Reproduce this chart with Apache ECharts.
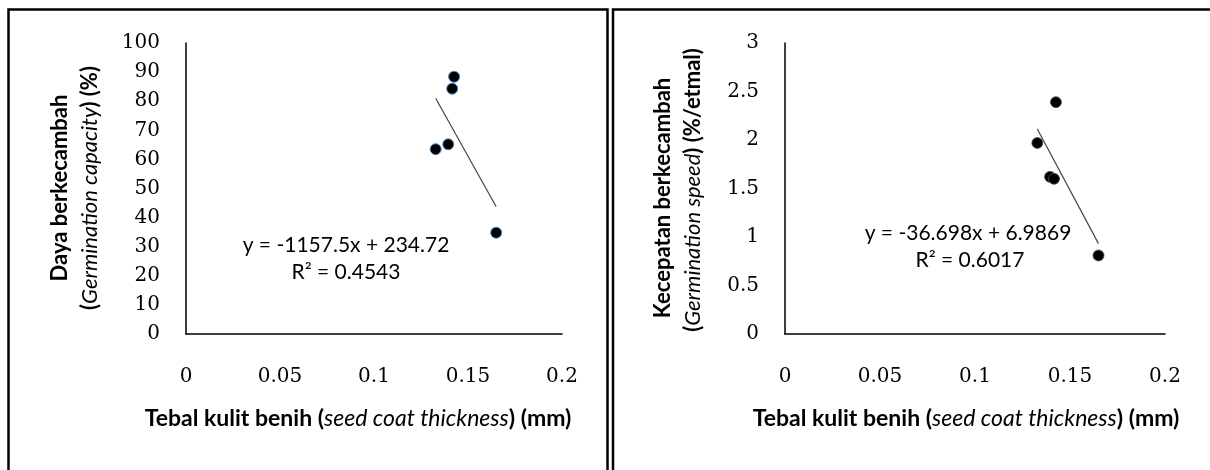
<!DOCTYPE html>
<html><head><meta charset="utf-8">
<script src="https://cdn.jsdelivr.net/npm/echarts@6/dist/echarts.min.js"></script>
<style>html,body{margin:0;padding:0;background:#fff}#c{width:1210px;height:470px}</style>
</head><body><div id="c"></div>
<script>
// Data
const thickness = [0.1328, 0.1395, 0.1416, 0.1426, 0.165];   // seed coat thickness (mm)
const capacity  = [63.5, 65.2, 84.3, 88.4, 34.8];            // germination capacity (%)
const speed     = [1.97, 1.62, 1.60, 2.39, 0.81];            // germination speed (%/etmal)
const xTicks = [0, 0.05, 0.1, 0.15, 0.2];
const capTicks = [0, 10, 20, 30, 40, 50, 60, 70, 80, 90, 100];
const speedTicks = [0, 0.5, 1, 1.5, 2, 2.5, 3];
const fitCapacity = [-1157.5, 234.72];   // slope, intercept
const fitSpeed = [-36.698, 6.9869];
const eqCapacity = ['y = -1157.5x + 234.72', 'R\u00B2 = 0.4543'];
const eqSpeed = ['y = -36.698x + 6.9869', 'R\u00B2 = 0.6017'];

const chart = echarts.init(document.getElementById('c'), null, {renderer: 'canvas'});
const xMin = Math.min(...thickness), xMax = Math.max(...thickness);
const trend = f => [[xMin, f[0]*xMin + f[1]], [xMax, f[0]*xMax + f[1]]];
const pairs = ys => thickness.map((x, i) => [x, ys[i]]);

const tickFont = {fontFamily: 'DejaVu Serif', fontSize: 20, color: '#000'};
const sans = 'Lato';
function xAxis(gi) {
  return {type: 'value', gridIndex: gi, min: xTicks[0], max: xTicks[xTicks.length-1], interval: 0.05,
    axisLine: {show: true, onZero: false, lineStyle: {color: '#000', width: 1.5}},
    axisTick: {show: false}, splitLine: {show: false},
    axisLabel: Object.assign({margin: 33, formatter: v => String(v)}, tickFont)};
}
function yAxis(gi, ticks, iv) {
  return {type: 'value', gridIndex: gi, min: ticks[0], max: ticks[ticks.length-1], interval: iv,
    axisLine: {show: true, onZero: false, lineStyle: {color: '#000', width: 1.5}},
    axisTick: {show: false}, splitLine: {show: false},
    axisLabel: Object.assign({margin: 26}, tickFont)};
}
const rich = {
  b: {fontFamily: sans, fontWeight: 'bold', fontSize: 22, color: '#000'},
  i: {fontFamily: sans, fontStyle: 'italic', fontSize: 22, color: '#000'}
};
const richX = {
  b: {fontFamily: sans, fontWeight: 'bold', fontSize: 23, color: '#000'},
  i: {fontFamily: sans, fontStyle: 'italic', fontSize: 23, color: '#000'}
};
function txt(x, y, text) {
  return {type: 'text', x: x, y: y, style: {text: text, fill: '#000',
    font: '21px ' + sans, align: 'center', verticalAlign: 'middle'}};
}

chart.setOption({
  animation: false,
  grid: [
    {left: 186, top: 43, width: 376, height: 291},
    {left: 785, top: 43, width: 380, height: 291}
  ],
  xAxis: [xAxis(0), xAxis(1)],
  yAxis: [yAxis(0, capTicks, 10), yAxis(1, speedTicks, 0.5)],
  series: [
    {type: 'line', xAxisIndex: 0, yAxisIndex: 0, data: trend(fitCapacity), symbol: 'none',
      lineStyle: {color: '#444', width: 1.2}, z: 2},
    {type: 'scatter', xAxisIndex: 0, yAxisIndex: 0, data: pairs(capacity), symbolSize: 11,
      itemStyle: {color: '#000', opacity: 1, borderColor: '#4a86c5', borderWidth: 1}, z: 3},
    {type: 'line', xAxisIndex: 1, yAxisIndex: 1, data: trend(fitSpeed), symbol: 'none',
      lineStyle: {color: '#444', width: 1.2}, z: 2},
    {type: 'scatter', xAxisIndex: 1, yAxisIndex: 1, data: pairs(speed), symbolSize: 11,
      itemStyle: {color: '#000', opacity: 1, borderColor: '#555', borderWidth: 0.8}, z: 3}
  ],
  graphic: [
    {type: 'rect', shape: {x: 8.5, y: 9.5, width: 599, height: 480}, style: {fill: 'none', stroke: '#000', lineWidth: 2.5}},
    {type: 'rect', shape: {x: 613, y: 9.5, width: 620, height: 480}, style: {fill: 'none', stroke: '#000', lineWidth: 2.5}},
    // left y title
    {type: 'text', x: 60, y: 188, rotation: Math.PI/2, style: {text: '{b|Daya berkecambah}', rich: rich, align: 'center', verticalAlign: 'middle'}},
    {type: 'text', x: 90, y: 188, rotation: Math.PI/2, style: {text: '{b|(}{i|Germination capacity}{b|) (%)}', rich: rich, align: 'center', verticalAlign: 'middle'}},
    // right y title
    {type: 'text', x: 663, y: 198, rotation: Math.PI/2, style: {text: '{b|Kecepatan berkecambah}', rich: rich, align: 'center', verticalAlign: 'middle'}},
    {type: 'text', x: 693, y: 190, rotation: Math.PI/2, style: {text: '{b|(}{i|Germination speed}{b|) (%/etmal)}', rich: rich, align: 'center', verticalAlign: 'middle'}},
    // x titles
    {type: 'text', x: 358, y: 419, style: {text: '{b|Tebal kulit benih (}{i|seed coat thickness}{b|) (mm)}', rich: richX, align: 'center', verticalAlign: 'middle'}},
    {type: 'text', x: 966, y: 419, style: {text: '{b|Tebal kulit benih (}{i|seed coat thickness}{b|) (mm)}', rich: richX, align: 'center', verticalAlign: 'middle'}},
    // equations
    txt(346, 245, eqCapacity[0]), txt(346, 272, eqCapacity[1]),
    txt(968, 233, eqSpeed[0]), txt(970, 260, eqSpeed[1])
  ]
});
</script></body></html>
